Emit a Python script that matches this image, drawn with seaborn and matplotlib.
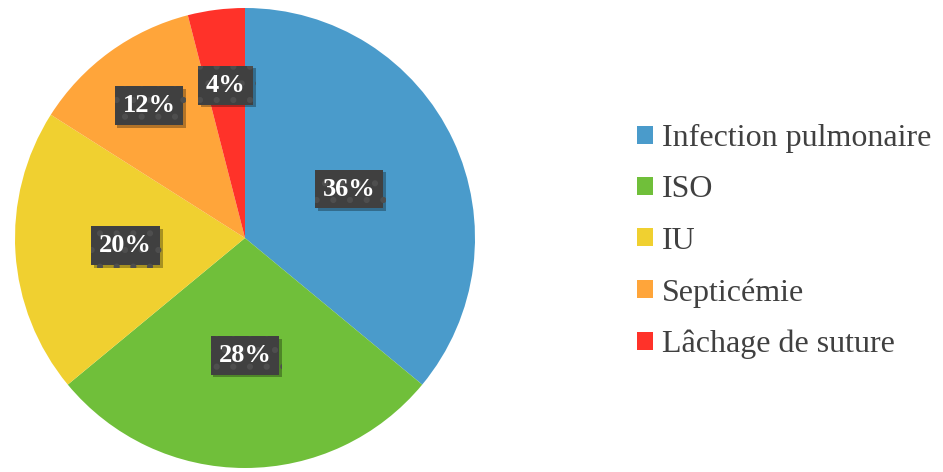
import numpy as np
import matplotlib.pyplot as plt
import matplotlib.patheffects as pe
from matplotlib.patches import Patch
import seaborn as sns

# données
categories = ['Infection pulmonaire', 'ISO', 'IU', 'Septicémie', 'Lâchage de suture']
values = [36, 28, 20, 12, 4]
colors = ['#4A9BCB', '#70BF3A', '#F0D030', '#FFA53A', '#FF3229']
label_dist = [0.5, 0.51, 0.52, 0.71, 0.67]

sns.set_theme(style='white')
plt.rcParams['font.family'] = ['Liberation Serif', 'DejaVu Serif']
plt.rcParams['hatch.linewidth'] = 2.0

fig = plt.figure(figsize=(9.43, 4.72), dpi=100)
ax = fig.add_axes([15 / 943, 4 / 472, 460 / 943, 460 / 472])

wedges, _ = ax.pie(values, colors=colors, startangle=90, counterclock=False,
                   wedgeprops=dict(linewidth=0))
ax.set_xlim(-1, 1)
ax.set_ylim(-1, 1)
ax.set_aspect('equal')

# étiquettes de pourcentage
total = sum(values)
for w, v, d in zip(wedges, values, label_dist):
    ang = np.deg2rad((w.theta1 + w.theta2) / 2)
    x, y = d * np.cos(ang), d * np.sin(ang)
    t = ax.text(x, y, f'{v / total * 100:.0f}%', ha='center', va='center',
                color='white', fontsize=19, fontweight='bold',
                bbox=dict(boxstyle='square,pad=0.3', facecolor='#404040',
                          edgecolor='#4e4e4e', hatch='.', linewidth=0))
    t.get_bbox_patch().set_path_effects([
        pe.SimplePatchShadow(offset=(2, -2), shadow_rgbFace='black', alpha=0.3),
        pe.Normal()])

# légende
handles = [Patch(facecolor=c, edgecolor='none') for c in colors]
fig.legend(handles, categories, loc='center left', bbox_to_anchor=(608 / 943, 0.488),
           frameon=False, fontsize=23, handlelength=0.5, handleheight=0.5,
           handletextpad=0.3, labelspacing=0.7, labelcolor='#404040')

fig.savefig('out.png', dpi=100)
